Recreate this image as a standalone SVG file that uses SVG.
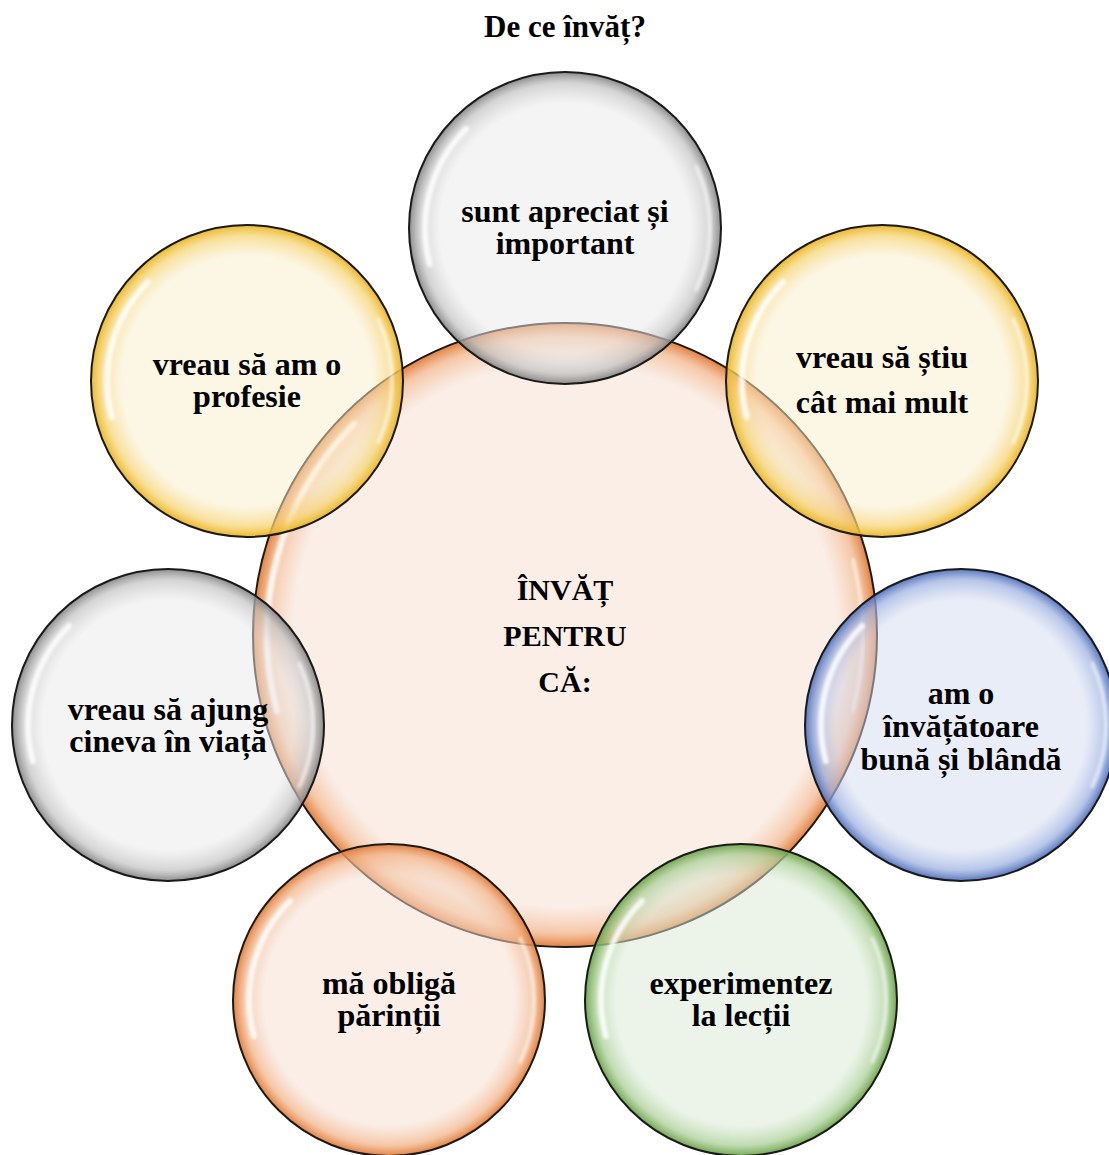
<svg xmlns="http://www.w3.org/2000/svg" xmlns:xlink="http://www.w3.org/1999/xlink" width="1109" height="1155" viewBox="0 0 1109 1155">
<style>
  .t { font-family: "Liberation Serif", "Times New Roman", serif; font-weight: bold; font-size: 32px; fill: #000; text-anchor: middle; }
  .title { font-size: 31px; }
  .ctr { font-size: 30px; }
  .ring { stroke: #1a1a1a; stroke-width: 2; }
  .hl { fill: none; stroke: #ffffff; stroke-width: 6; stroke-linecap: round; opacity: 0.85; filter: url(#blur); }
  .hl2 { fill: none; stroke: #ffffff; stroke-width: 4; stroke-linecap: round; opacity: 0.55; filter: url(#blur); }
</style>
<defs>
  <filter id="blur" x="-20%" y="-20%" width="140%" height="140%"><feGaussianBlur stdDeviation="1.5"/></filter>
  <radialGradient id="gGray" cx="0.5" cy="0.5" r="0.5">
    <stop offset="0" stop-color="#e9e9e9" stop-opacity="0.5"/>
    <stop offset="0.80" stop-color="#e9e9e9" stop-opacity="0.5"/>
    <stop offset="0.93" stop-color="#c0c0c0" stop-opacity="0.68"/>
    <stop offset="1" stop-color="#858585" stop-opacity="0.95"/>
  </radialGradient>
  <radialGradient id="gYellow" cx="0.5" cy="0.5" r="0.5">
    <stop offset="0" stop-color="#f9edc9" stop-opacity="0.5"/>
    <stop offset="0.80" stop-color="#f9edc9" stop-opacity="0.5"/>
    <stop offset="0.93" stop-color="#f6d472" stop-opacity="0.72"/>
    <stop offset="1" stop-color="#ebb420" stop-opacity="0.95"/>
  </radialGradient>
  <radialGradient id="gBlue" cx="0.5" cy="0.5" r="0.5">
    <stop offset="0" stop-color="#d3dbef" stop-opacity="0.5"/>
    <stop offset="0.80" stop-color="#d3dbef" stop-opacity="0.5"/>
    <stop offset="0.93" stop-color="#9bafe0" stop-opacity="0.72"/>
    <stop offset="1" stop-color="#5070bb" stop-opacity="0.95"/>
  </radialGradient>
  <radialGradient id="gGreen" cx="0.5" cy="0.5" r="0.5">
    <stop offset="0" stop-color="#d9e9d5" stop-opacity="0.5"/>
    <stop offset="0.80" stop-color="#d9e9d5" stop-opacity="0.5"/>
    <stop offset="0.93" stop-color="#a8ce94" stop-opacity="0.72"/>
    <stop offset="1" stop-color="#6aa248" stop-opacity="0.95"/>
  </radialGradient>
  <radialGradient id="gOrange" cx="0.5" cy="0.5" r="0.5">
    <stop offset="0" stop-color="#f5ddcd" stop-opacity="0.5"/>
    <stop offset="0.80" stop-color="#f5ddcd" stop-opacity="0.5"/>
    <stop offset="0.93" stop-color="#f2b286" stop-opacity="0.72"/>
    <stop offset="1" stop-color="#e07a36" stop-opacity="0.95"/>
  </radialGradient>
  <radialGradient id="gCenter" cx="0.5" cy="0.5" r="0.5">
    <stop offset="0" stop-color="#f5ddcd" stop-opacity="0.5"/>
    <stop offset="0.87" stop-color="#f5ddcd" stop-opacity="0.5"/>
    <stop offset="0.955" stop-color="#f2b286" stop-opacity="0.72"/>
    <stop offset="1" stop-color="#e07a36" stop-opacity="0.95"/>
  </radialGradient>
  <path id="hl" class="hl" d="M -135.2 36.2 A 140 140 0 0 1 -99 -99"/>
  <path id="hr" class="hl2" d="M 131.4 -61.3 A 145 145 0 0 1 131.4 61.3"/>
</defs>

<text class="t title" x="565" y="37">De ce învăț?</text>

<g id="node-center">
  <circle class="ring" cx="565" cy="635" r="312" fill="url(#gCenter)"/>
  <path class="hl" d="M 277 711 A 298 298 0 0 1 354 424"/>
  <path class="hl2" d="M 853 560 A 298 298 0 0 1 853 710"/>
  <text class="t ctr" x="565" y="600">ÎNVĂȚ</text>
  <text class="t ctr" x="565" y="646">PENTRU</text>
  <text class="t ctr" x="565" y="692">CĂ:</text>
</g>

<g id="node-top">
  <circle class="ring" cx="565" cy="228" r="156" fill="url(#gGray)"/>
  <use xlink:href="#hl" x="565" y="228"/>
  <use xlink:href="#hr" x="565" y="228"/>
  <text class="t" x="565" y="222">sunt apreciat și</text>
  <text class="t" x="565" y="254">important</text>
</g>

<g id="node-top-right">
  <circle class="ring" cx="882" cy="381" r="156" fill="url(#gYellow)"/>
  <use xlink:href="#hl" x="882" y="381"/>
  <use xlink:href="#hr" x="882" y="381"/>
  <text class="t" x="882" y="368">vreau să știu</text>
  <text class="t" x="882" y="413">cât mai mult</text>
</g>

<g id="node-right">
  <circle class="ring" cx="961" cy="725" r="156" fill="url(#gBlue)"/>
  <use xlink:href="#hl" x="961" y="725"/>
  <use xlink:href="#hr" x="961" y="725"/>
  <text class="t" x="961" y="704">am o</text>
  <text class="t" x="961" y="737">învățătoare</text>
  <text class="t" x="961" y="770">bună și blândă</text>
</g>

<g id="node-bottom-right">
  <circle class="ring" cx="741" cy="1000" r="156" fill="url(#gGreen)"/>
  <use xlink:href="#hl" x="741" y="1000"/>
  <use xlink:href="#hr" x="741" y="1000"/>
  <text class="t" x="741" y="994">experimentez</text>
  <text class="t" x="741" y="1026">la lecții</text>
</g>

<g id="node-bottom-left">
  <circle class="ring" cx="389" cy="1000" r="156" fill="url(#gOrange)"/>
  <use xlink:href="#hl" x="389" y="1000"/>
  <use xlink:href="#hr" x="389" y="1000"/>
  <text class="t" x="389" y="994">mă obligă</text>
  <text class="t" x="389" y="1026">părinții</text>
</g>

<g id="node-left">
  <circle class="ring" cx="168" cy="725" r="156" fill="url(#gGray)"/>
  <use xlink:href="#hl" x="168" y="725"/>
  <use xlink:href="#hr" x="168" y="725"/>
  <text class="t" x="168" y="720">vreau să ajung</text>
  <text class="t" x="168" y="752">cineva în viață</text>
</g>

<g id="node-top-left">
  <circle class="ring" cx="247" cy="381" r="156" fill="url(#gYellow)"/>
  <use xlink:href="#hl" x="247" y="381"/>
  <use xlink:href="#hr" x="247" y="381"/>
  <text class="t" x="247" y="375">vreau să am o</text>
  <text class="t" x="247" y="407">profesie</text>
</g>

<g id="connectors"></g>
</svg>
